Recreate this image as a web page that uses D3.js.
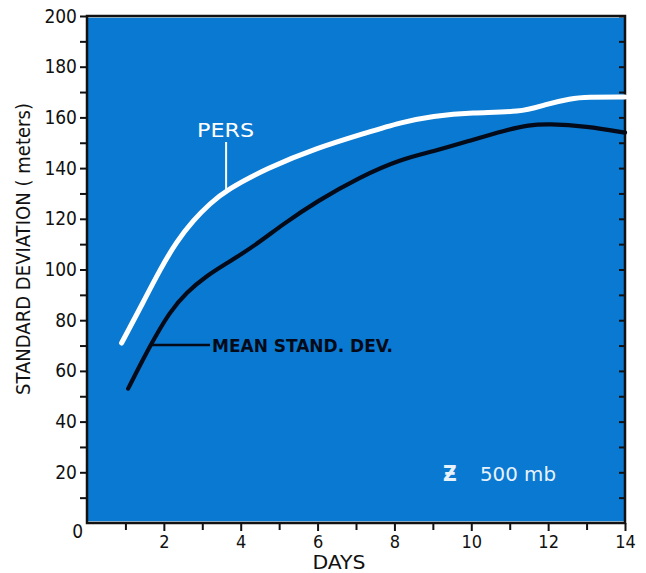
<!DOCTYPE html>
<html>
<head>
<meta charset="utf-8">
<script src="https://cdn.jsdelivr.net/npm/d3@7"></script>
<style>
  html, body { margin: 0; padding: 0; background: #ffffff; }
  svg { display: block; }
  text { font-family: "DejaVu Sans Condensed", "DejaVu Sans", sans-serif; }
</style>
</head>
<body>
<svg id="chart" width="646" height="573"></svg>
<script>
// Persistence standard deviation (white curve), 500 mb height
const persDays   = [0.9, 1.46, 1.9, 2.33, 2.77, 3.2, 3.64, 4.69, 5.99, 7.29, 8.15, 9.0, 10.0, 11.3, 11.9, 12.6, 13.0, 14.0];
const persValues = [71, 87, 100, 111, 119.5, 126, 131.5, 140, 148, 154, 158, 160.5, 162, 162, 165, 167.5, 168, 168];

// Mean standard deviation (black curve)
const meanDays   = [1.07, 1.64, 2.16, 2.59, 3.11, 3.64, 4.33, 5.11, 5.99, 7.1, 8.15, 9.0, 10.0, 10.9, 11.5, 12.0, 13.0, 14.0];
const meanValues = [53, 70, 83.5, 91, 97.5, 102.5, 109, 118, 127, 136.5, 143.5, 146.5, 151, 155, 157, 157.5, 156.5, 154];

// Axis ticks
const xMajorTicks = [0, 2, 4, 6, 8, 10, 12, 14];
const xMinorTicks = [1, 3, 5, 7, 9, 11, 13];
const yMajorTicks = [20, 40, 60, 80, 100, 120, 140, 160, 180, 200];
const yMinorTicks = [10, 30, 50, 70, 90, 110, 130, 150, 170, 190];

const svg = d3.select("#chart");
const plotL = 87, plotR = 625, plotT = 16, plotB = 523;

const x = d3.scaleLinear().domain([0, 14]).range([plotL, plotR]);
const y = d3.scaleLinear().domain([0, 200]).range([plotB, plotT]);

// Blue panel
svg.append("rect")
  .attr("x", plotL).attr("y", plotT)
  .attr("width", plotR - plotL).attr("height", plotB - plotT)
  .attr("fill", "#0a79d1");
// thin pale inner edges at top and bottom
svg.append("line").attr("x1", plotL).attr("x2", plotR).attr("y1", plotT + 1.5).attr("y2", plotT + 1.5)
  .attr("stroke", "#b9dcf2").attr("stroke-width", 1.2);
svg.append("line").attr("x1", plotL).attr("x2", plotR).attr("y1", plotB - 1.5).attr("y2", plotB - 1.5)
  .attr("stroke", "#b9dcf2").attr("stroke-width", 1.2);

// Frame
svg.append("rect")
  .attr("x", plotL).attr("y", plotT)
  .attr("width", plotR - plotL).attr("height", plotB - plotT)
  .attr("fill", "none").attr("stroke", "#111").attr("stroke-width", 2.5);

// Left axis: outward ticks
const yAxisL = d3.axisLeft(y).tickValues(yMajorTicks).tickSize(7).tickPadding(3).tickFormat(d3.format("d"));
const gL = svg.append("g").attr("transform", `translate(${plotL},0)`).call(yAxisL);
gL.select(".domain").remove();
gL.selectAll(".tick line").attr("stroke", "#111").attr("stroke-width", 2);
gL.selectAll(".tick text").attr("font-size", 19).attr("fill", "#111");
const gLm = svg.append("g").attr("transform", `translate(${plotL},0)`)
  .call(d3.axisLeft(y).tickValues(yMinorTicks).tickSize(7).tickFormat(""));
gLm.select(".domain").remove();
gLm.selectAll(".tick line").attr("stroke", "#111").attr("stroke-width", 2);

// Right axis: inward ticks every 10
const gR = svg.append("g").attr("transform", `translate(${plotR},0)`)
  .call(d3.axisLeft(y).tickValues(yMajorTicks.concat(yMinorTicks)).tickSize(6).tickFormat(""));
gR.select(".domain").remove();
gR.selectAll(".tick line").attr("stroke", "#111").attr("stroke-width", 2);

// Bottom axis: outward ticks every day, labels on even days
const gB = svg.append("g").attr("transform", `translate(0,${plotB})`)
  .call(d3.axisBottom(x).tickValues(xMajorTicks.filter(d => d > 0)).tickSize(8).tickPadding(4).tickFormat(d3.format("d")));
gB.select(".domain").remove();
gB.selectAll(".tick line").attr("stroke", "#111").attr("stroke-width", 2);
gB.selectAll(".tick text").attr("font-size", 18).attr("fill", "#111");
const gBm = svg.append("g").attr("transform", `translate(0,${plotB})`)
  .call(d3.axisBottom(x).tickValues(xMinorTicks).tickSize(7).tickFormat(""));
gBm.select(".domain").remove();
gBm.selectAll(".tick line").attr("stroke", "#111").attr("stroke-width", 2);

// Origin label
svg.append("text").attr("x", x(0) - 4).attr("y", y(0) + 15)
  .attr("text-anchor", "end").attr("font-size", 19).attr("fill", "#111").text("0");

// Curves (smoothed through the read-off points)
const line = d3.line().curve(d3.curveBasis);
const persPts = persDays.map((d, i) => [x(d), y(persValues[i])]);
const meanPts = meanDays.map((d, i) => [x(d), y(meanValues[i])]);

svg.append("path").attr("d", line(persPts))
  .attr("fill", "none").attr("stroke", "#ffffff").attr("stroke-width", 5).attr("stroke-linecap", "round");
svg.append("path").attr("d", line(meanPts))
  .attr("fill", "none").attr("stroke", "#050a18").attr("stroke-width", 4.2).attr("stroke-linecap", "round");

// Curve labels with leader lines
svg.append("text").attr("x", 197).attr("y", 137)
  .attr("font-size", 19).attr("fill", "#ffffff")
  .attr("textLength", 57).attr("lengthAdjust", "spacingAndGlyphs").text("PERS");
svg.append("line").attr("x1", x(3.62)).attr("x2", x(3.62)).attr("y1", 142).attr("y2", y(131))
  .attr("stroke", "#ffffff").attr("stroke-width", 2);

svg.append("line").attr("x1", x(1.65)).attr("x2", 210).attr("y1", 345).attr("y2", 345)
  .attr("stroke", "#050a18").attr("stroke-width", 2.5);
svg.append("text").attr("x", 212).attr("y", 352)
  .attr("font-size", 17).attr("font-weight", "bold").attr("fill", "#050a18")
  .attr("textLength", 181).attr("lengthAdjust", "spacingAndGlyphs").text("MEAN STAND. DEV.");

// Level annotation
svg.append("text").attr("x", 443).attr("y", 481)
  .attr("font-size", 21).attr("font-weight", "bold").attr("fill", "#e8f2fb").text("Ƶ");
svg.append("text").attr("x", 480).attr("y", 481)
  .attr("font-size", 20).attr("fill", "#e8f2fb")
  .attr("textLength", 76).attr("lengthAdjust", "spacingAndGlyphs").text("500 mb");

// Axis titles
svg.append("text").attr("x", 339).attr("y", 569)
  .attr("text-anchor", "middle").attr("font-size", 19).attr("fill", "#111")
  .attr("textLength", 53).attr("lengthAdjust", "spacingAndGlyphs").text("DAYS");
svg.append("text").attr("transform", "translate(30,249) rotate(-90)")
  .attr("text-anchor", "middle").attr("font-size", 20).attr("fill", "#111")
  .attr("textLength", 292).attr("lengthAdjust", "spacing")
  .text("STANDARD  DEVIATION ( meters)");
</script>
</body>
</html>
